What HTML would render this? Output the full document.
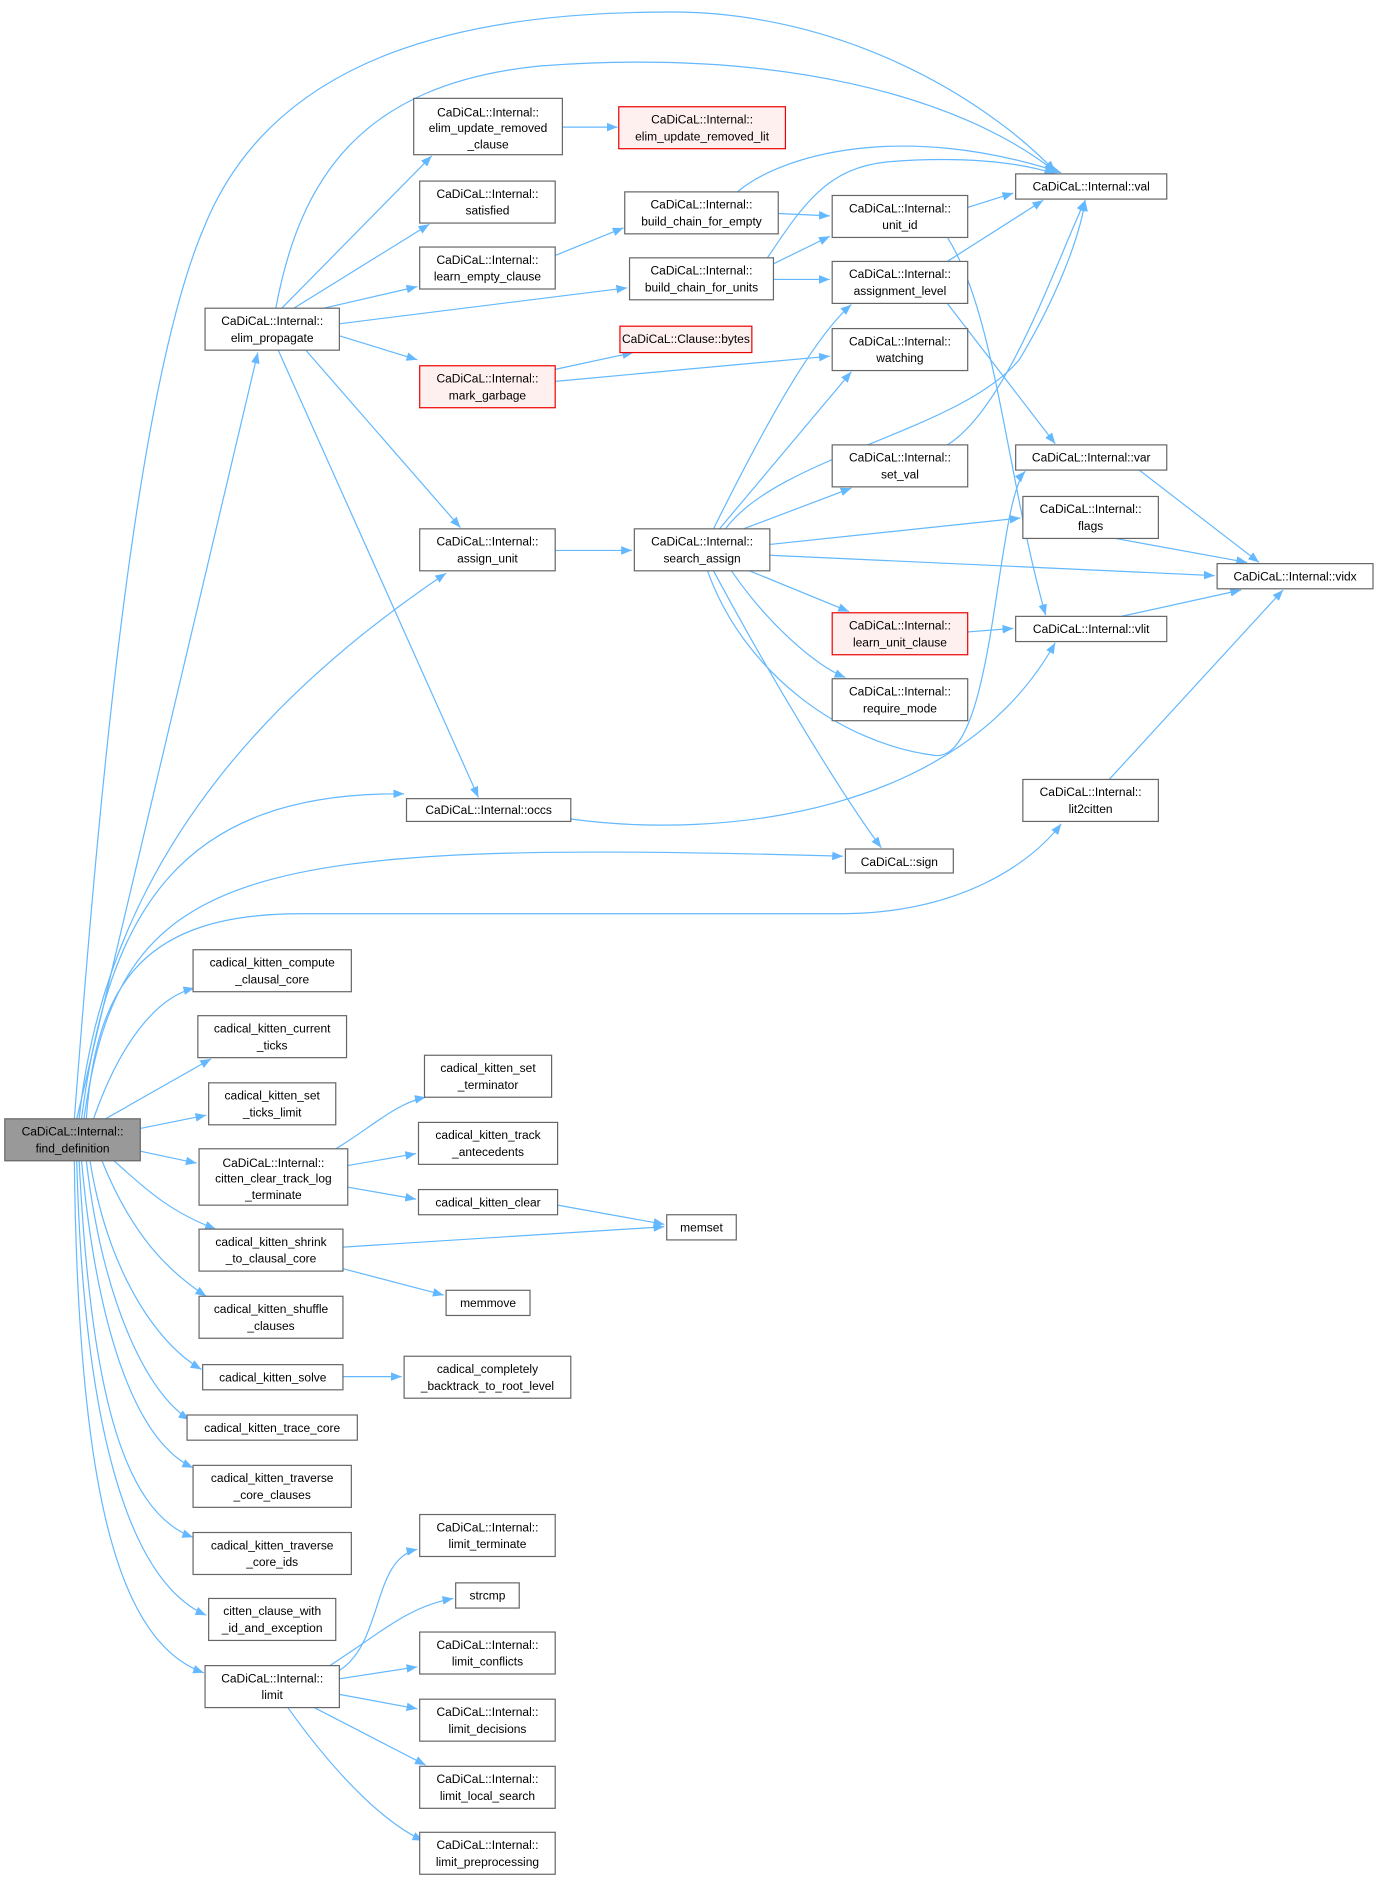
<!DOCTYPE html>
<html><head><meta charset="utf-8"><style>
html,body{margin:0;padding:0;background:#fff}
svg text{font-family:"Liberation Sans",Arial,sans-serif;font-size:10px;fill:#000;text-anchor:middle}
.n{fill:#fff;stroke:#666;stroke-width:1}
.r{fill:#fff0f0;stroke:#e00;stroke-width:1}
.g{fill:#999;stroke:#666;stroke-width:1}
.e{fill:none;stroke:#63b8ff;stroke-width:1;marker-end:url(#a)}
</style></head><body>
<svg width="1379" height="1881" viewBox="0 0 1150 1568.6" xmlns="http://www.w3.org/2000/svg">
<defs><marker id="a" viewBox="0 0 10 10" refX="10" refY="5" markerWidth="9" markerHeight="9" markerUnits="userSpaceOnUse" orient="auto"><path d="M0,1 L10,5 L0,9 z" fill="#63b8ff"/></marker></defs>
<g>
<path class="e" d="M62,933 C80,700 110,330 170,190 C230,40 400,10 560,10 C700,10 820,80 880,143"/>
<path class="e" d="M64,933 L215,294"/>
<path class="e" d="M66,933 C90,700 250,560 372,478"/>
<path class="e" d="M68,933 C90,760 150,660 337,662"/>
<path class="e" d="M70,933 C100,720 200,700 703,714"/>
<path class="e" d="M72,933 C80,820 120,762 250,762 L700,762 C800,762 860,720 885,687"/>
<path class="e" d="M78,933 C100,870 130,832 162,824"/>
<path class="e" d="M88,933 L176,883"/>
<path class="e" d="M117,941 L172,930"/>
<path class="e" d="M117,960 L164,970"/>
<path class="e" d="M95,968 C120,990 140,1010 180,1025"/>
<path class="e" d="M85,968 C110,1030 140,1060 172,1081"/>
<path class="e" d="M75,968 C90,1060 130,1120 168,1142"/>
<path class="e" d="M72,968 C85,1080 120,1160 158,1184"/>
<path class="e" d="M68,968 C80,1100 110,1200 161,1224"/>
<path class="e" d="M66,968 C75,1150 100,1260 161,1282"/>
<path class="e" d="M64,968 C70,1200 110,1320 172,1347"/>
<path class="e" d="M62,968 C65,1250 100,1370 170,1395"/>
<path class="e" d="M230,257 C250,150 300,70 450,55 C650,40 800,80 880,143"/>
<path class="e" d="M235,257 L360,130"/>
<path class="e" d="M245,257 L358,187"/>
<path class="e" d="M270,257 L348,239"/>
<path class="e" d="M283,270 L523,240"/>
<path class="e" d="M283,280 L348,300"/>
<path class="e" d="M255,292 L384,440"/>
<path class="e" d="M232,292 L399,665"/>
<path class="e" d="M469,106 L515,106"/>
<path class="e" d="M463,213 L520,190"/>
<path class="e" d="M615,160 C650,130 750,100 885,144"/>
<path class="e" d="M649,178 L692,180"/>
<path class="e" d="M640,215 C670,170 690,140 740,135 C800,130 850,135 880,145"/>
<path class="e" d="M645,220 L692,197"/>
<path class="e" d="M645,233 L692,233"/>
<path class="e" d="M463,308 L528,294"/>
<path class="e" d="M463,318 L692,297"/>
<path class="e" d="M807,173 L845,161"/>
<path class="e" d="M790,198 C830,260 840,400 872,513"/>
<path class="e" d="M790,218 L870,167"/>
<path class="e" d="M790,253 L880,370"/>
<path class="e" d="M790,371 C840,340 880,220 905,167"/>
<path class="e" d="M463,459 L527,459"/>
<path class="e" d="M595,441 C640,350 680,280 710,254"/>
<path class="e" d="M600,441 L710,310"/>
<path class="e" d="M605,441 C650,380 800,360 850,300 C880,250 900,200 905,167"/>
<path class="e" d="M620,441 L710,407"/>
<path class="e" d="M642,454 L851,432"/>
<path class="e" d="M642,463 L1013,480"/>
<path class="e" d="M625,476 L708,510"/>
<path class="e" d="M610,476 C640,520 680,555 705,565"/>
<path class="e" d="M595,476 C640,560 700,660 735,707"/>
<path class="e" d="M590,476 C620,560 700,620 780,630 C830,635 830,420 855,393"/>
<path class="e" d="M807,527 L845,524"/>
<path class="e" d="M950,392 L1050,469"/>
<path class="e" d="M930,449 L1040,469"/>
<path class="e" d="M935,514 L1035,492"/>
<path class="e" d="M925,650 L1070,492"/>
<path class="e" d="M476,683 C600,700 800,680 880,536"/>
<path class="e" d="M280,958 C310,940 330,920 355,915"/>
<path class="e" d="M290,972 L347,962"/>
<path class="e" d="M290,990 L347,1000"/>
<path class="e" d="M465,1005 L554,1021"/>
<path class="e" d="M286,1040 L554,1023"/>
<path class="e" d="M286,1058 L370,1080"/>
<path class="e" d="M286,1148 L335,1148"/>
<path class="e" d="M283,1393 C320,1370 310,1300 348,1292"/>
<path class="e" d="M275,1389 C320,1360 340,1340 378,1333"/>
<path class="e" d="M283,1400 L348,1390"/>
<path class="e" d="M283,1413 L348,1425"/>
<path class="e" d="M262,1424 L355,1472"/>
<path class="e" d="M240,1424 C280,1480 320,1520 353,1535"/>
</g>
<g>
<rect class="g" x="4" y="933" width="113" height="35"/><text x="60.5" y="947">CaDiCaL::Internal::</text><text x="60.5" y="961">find_definition</text>
<rect class="n" x="171" y="257" width="112" height="35"/><text x="227" y="271">CaDiCaL::Internal::</text><text x="227" y="285">elim_propagate</text>
<rect class="n" x="345" y="82" width="124" height="47"/><text x="407" y="97">CaDiCaL::Internal::</text><text x="407" y="110">elim_update_removed</text><text x="407" y="124">_clause</text>
<rect class="r" x="516" y="89" width="139" height="35"/><text x="585.5" y="103">CaDiCaL::Internal::</text><text x="585.5" y="117">elim_update_removed_lit</text>
<rect class="n" x="350" y="151" width="113" height="35"/><text x="406.5" y="165">CaDiCaL::Internal::</text><text x="406.5" y="179">satisfied</text>
<rect class="n" x="350" y="206" width="113" height="35"/><text x="406.5" y="220">CaDiCaL::Internal::</text><text x="406.5" y="234">learn_empty_clause</text>
<rect class="r" x="350" y="305" width="113" height="35"/><text x="406.5" y="319">CaDiCaL::Internal::</text><text x="406.5" y="333">mark_garbage</text>
<rect class="n" x="350" y="441" width="113" height="35"/><text x="406.5" y="455">CaDiCaL::Internal::</text><text x="406.5" y="469">assign_unit</text>
<rect class="n" x="339" y="666" width="137" height="19"/><text x="407.5" y="679">CaDiCaL::Internal::occs</text>
<rect class="n" x="521" y="160" width="128" height="35"/><text x="585" y="174">CaDiCaL::Internal::</text><text x="585" y="188">build_chain_for_empty</text>
<rect class="n" x="525" y="215" width="120" height="35"/><text x="585" y="229">CaDiCaL::Internal::</text><text x="585" y="243">build_chain_for_units</text>
<rect class="r" x="517" y="272" width="110" height="22"/><text x="572" y="286">CaDiCaL::Clause::bytes</text>
<rect class="n" x="529" y="441" width="113" height="35"/><text x="585.5" y="455">CaDiCaL::Internal::</text><text x="585.5" y="469">search_assign</text>
<rect class="n" x="694" y="163" width="113" height="35"/><text x="750.5" y="177">CaDiCaL::Internal::</text><text x="750.5" y="191">unit_id</text>
<rect class="n" x="694" y="218" width="113" height="35"/><text x="750.5" y="232">CaDiCaL::Internal::</text><text x="750.5" y="246">assignment_level</text>
<rect class="n" x="694" y="274" width="113" height="35"/><text x="750.5" y="288">CaDiCaL::Internal::</text><text x="750.5" y="302">watching</text>
<rect class="n" x="694" y="371" width="113" height="35"/><text x="750.5" y="385">CaDiCaL::Internal::</text><text x="750.5" y="399">set_val</text>
<rect class="r" x="694" y="511" width="113" height="35"/><text x="750.5" y="525">CaDiCaL::Internal::</text><text x="750.5" y="539">learn_unit_clause</text>
<rect class="n" x="694" y="566" width="113" height="35"/><text x="750.5" y="580">CaDiCaL::Internal::</text><text x="750.5" y="594">require_mode</text>
<rect class="n" x="705" y="708" width="90" height="20"/><text x="750" y="722">CaDiCaL::sign</text>
<rect class="n" x="847" y="145" width="126" height="21"/><text x="910" y="159">CaDiCaL::Internal::val</text>
<rect class="n" x="847" y="371" width="126" height="21"/><text x="910" y="385">CaDiCaL::Internal::var</text>
<rect class="n" x="853" y="414" width="113" height="35"/><text x="909.5" y="428">CaDiCaL::Internal::</text><text x="909.5" y="442">flags</text>
<rect class="n" x="1015" y="470" width="130" height="21"/><text x="1080" y="484">CaDiCaL::Internal::vidx</text>
<rect class="n" x="847" y="514" width="126" height="21"/><text x="910" y="528">CaDiCaL::Internal::vlit</text>
<rect class="n" x="853" y="650" width="113" height="35"/><text x="909.5" y="664">CaDiCaL::Internal::</text><text x="909.5" y="678">lit2citten</text>
<rect class="n" x="161" y="792" width="132" height="35"/><text x="227" y="806">cadical_kitten_compute</text><text x="227" y="820">_clausal_core</text>
<rect class="n" x="165" y="847" width="124" height="35"/><text x="227" y="861">cadical_kitten_current</text><text x="227" y="875">_ticks</text>
<rect class="n" x="174" y="903" width="106" height="35"/><text x="227" y="917">cadical_kitten_set</text><text x="227" y="931">_ticks_limit</text>
<rect class="n" x="166" y="958" width="124" height="47"/><text x="228" y="973">CaDiCaL::Internal::</text><text x="228" y="986">citten_clear_track_log</text><text x="228" y="1000">_terminate</text>
<rect class="n" x="354" y="880" width="106" height="35"/><text x="407" y="894">cadical_kitten_set</text><text x="407" y="908">_terminator</text>
<rect class="n" x="349" y="936" width="116" height="35"/><text x="407" y="950">cadical_kitten_track</text><text x="407" y="964">_antecedents</text>
<rect class="n" x="349" y="992" width="116" height="21"/><text x="407" y="1006">cadical_kitten_clear</text>
<rect class="n" x="556" y="1013" width="58" height="21"/><text x="585" y="1027">memset</text>
<rect class="n" x="166" y="1025" width="120" height="35"/><text x="226" y="1039">cadical_kitten_shrink</text><text x="226" y="1053">_to_clausal_core</text>
<rect class="n" x="372" y="1076" width="70" height="21"/><text x="407" y="1090">memmove</text>
<rect class="n" x="166" y="1081" width="120" height="35"/><text x="226" y="1095">cadical_kitten_shuffle</text><text x="226" y="1109">_clauses</text>
<rect class="n" x="169" y="1138" width="117" height="21"/><text x="227.5" y="1152">cadical_kitten_solve</text>
<rect class="n" x="337" y="1131" width="139" height="35"/><text x="406.5" y="1145">cadical_completely</text><text x="406.5" y="1159">_backtrack_to_root_level</text>
<rect class="n" x="156" y="1180" width="142" height="21"/><text x="227" y="1194">cadical_kitten_trace_core</text>
<rect class="n" x="161" y="1222" width="132" height="35"/><text x="227" y="1236">cadical_kitten_traverse</text><text x="227" y="1250">_core_clauses</text>
<rect class="n" x="161" y="1278" width="132" height="35"/><text x="227" y="1292">cadical_kitten_traverse</text><text x="227" y="1306">_core_ids</text>
<rect class="n" x="174" y="1333" width="106" height="35"/><text x="227" y="1347">citten_clause_with</text><text x="227" y="1361">_id_and_exception</text>
<rect class="n" x="171" y="1389" width="112" height="35"/><text x="227" y="1403">CaDiCaL::Internal::</text><text x="227" y="1417">limit</text>
<rect class="n" x="350" y="1263" width="113" height="35"/><text x="406.5" y="1277">CaDiCaL::Internal::</text><text x="406.5" y="1291">limit_terminate</text>
<rect class="n" x="380" y="1320" width="53" height="21"/><text x="406.5" y="1334">strcmp</text>
<rect class="n" x="350" y="1361" width="113" height="35"/><text x="406.5" y="1375">CaDiCaL::Internal::</text><text x="406.5" y="1389">limit_conflicts</text>
<rect class="n" x="350" y="1417" width="113" height="35"/><text x="406.5" y="1431">CaDiCaL::Internal::</text><text x="406.5" y="1445">limit_decisions</text>
<rect class="n" x="350" y="1473" width="113" height="35"/><text x="406.5" y="1487">CaDiCaL::Internal::</text><text x="406.5" y="1501">limit_local_search</text>
<rect class="n" x="350" y="1528" width="113" height="35"/><text x="406.5" y="1542">CaDiCaL::Internal::</text><text x="406.5" y="1556">limit_preprocessing</text>
</g>
</svg>
</body></html>
